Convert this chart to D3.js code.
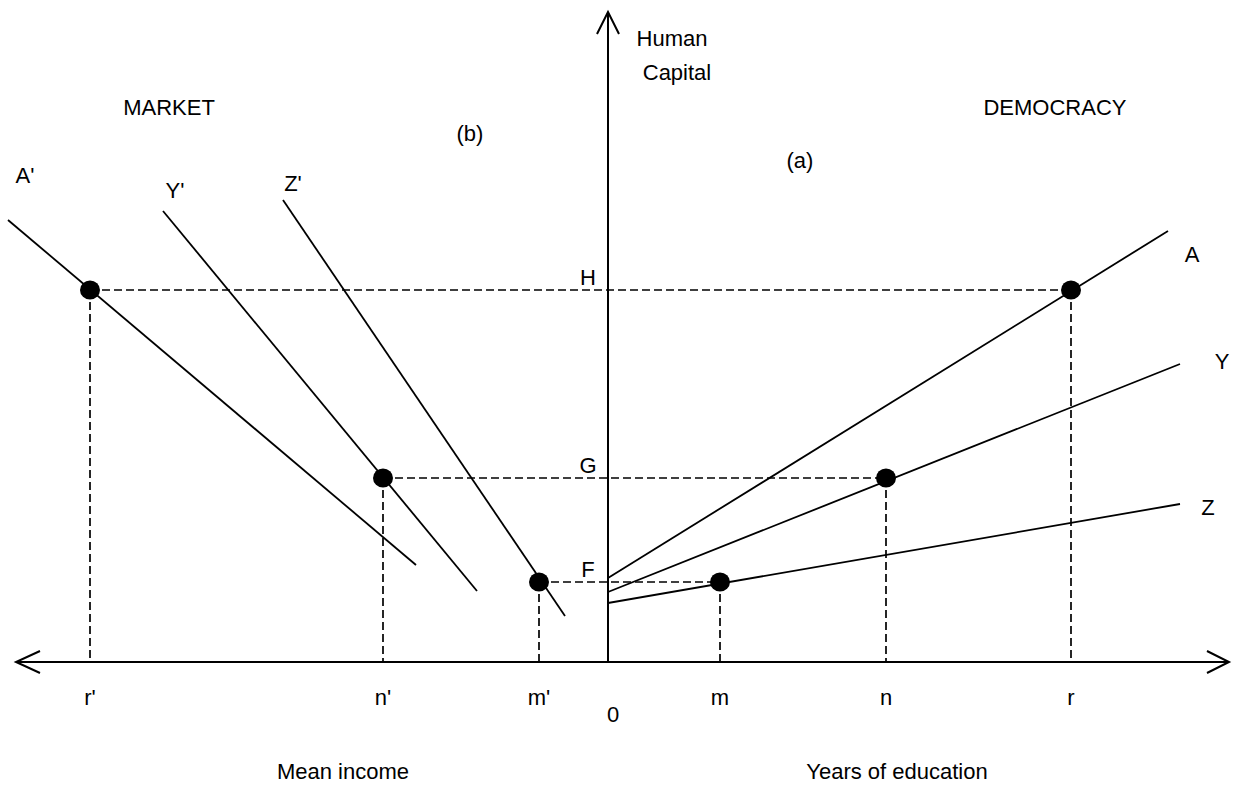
<!DOCTYPE html>
<html>
<head>
<meta charset="utf-8">
<script src="https://cdn.jsdelivr.net/npm/d3@7"></script>
<style>
    body { margin: 0; background: #fff; }
    svg text { font-family: "Liberation Sans", Arial, sans-serif; font-size: 22px; fill: #000; }
</style>
</head>
<body>
<div id="canvas"><svg width="1237" height="786"></svg></div>
<script>
// units are offsets from the origin: x = along the axis, h = height above it
const curveNames = ['A', 'Y', 'Z', "A'", "Y'", "Z'"];
const curveStart = [[0, 84], [0, 70], [0, 59], [-600, 442], [-445, 451], [-325, 462]];
const curveEnd = [[560, 431], [572, 298], [572, 158], [-192, 97], [-131, 71], [-43, 46]];

// equilibrium points, left (market) and right (democracy) for each level
const levelNames = ['H', 'G', 'F'];
const levelValues = [372, 184, 80];
const marketX = [-518, -225, -69];
const democracyX = [463, 278, 112];
const marketTicks = ["r'", "n'", "m'"];
const democracyTicks = ['r', 'n', 'm'];

const x = d3.scaleLinear().domain([-592, 621]).range([16, 1229]);
const y = d3.scaleLinear().domain([0, 650]).range([662, 12]);

const svg = d3.select('#canvas svg');

// axes
svg.append('line')
    .attr('x1', x(-592)).attr('x2', x(621))
    .attr('y1', y(0)).attr('y2', y(0))
    .attr('stroke', '#000').attr('stroke-width', 2);
svg.append('line')
    .attr('x1', x(0)).attr('x2', x(0))
    .attr('y1', y(0)).attr('y2', y(650))
    .attr('stroke', '#000').attr('stroke-width', 2);

// open arrow heads
const heads = [
    [[x(-592) + 24, y(0) - 11], [x(-592), y(0)], [x(-592) + 24, y(0) + 11]],
    [[x(621) - 22, y(0) - 11], [x(621), y(0)], [x(621) - 22, y(0) + 11]],
    [[x(0) - 11, y(650) + 22], [x(0), y(650)], [x(0) + 11, y(650) + 22]]
];
svg.selectAll('.head').data(heads)
    .enter().append('path')
    .attr('class', 'head')
    .attr('d', d3.line())
    .attr('fill', 'none')
    .attr('stroke', '#000')
    .attr('stroke-width', 2);

// dashed guides: horizontal level lines and drops to the axis
svg.selectAll('.level').data(levelValues)
    .enter().append('line')
    .attr('class', 'level')
    .attr('x1', (d, i) => { return x(marketX[i]); })
    .attr('x2', (d, i) => { return x(democracyX[i]); })
    .attr('y1', (d) => { return y(d); })
    .attr('y2', (d) => { return y(d); });

const drops = [];
levelValues.forEach((v, i) => {
    drops.push({ x: marketX[i], h: v, tick: marketTicks[i] });
    drops.push({ x: democracyX[i], h: v, tick: democracyTicks[i] });
});
svg.selectAll('.drop').data(drops)
    .enter().append('line')
    .attr('class', 'drop')
    .attr('x1', (d) => { return x(d.x); })
    .attr('x2', (d) => { return x(d.x); })
    .attr('y1', (d) => { return y(d.h); })
    .attr('y2', y(0));

svg.selectAll('.level, .drop')
    .attr('stroke', '#000')
    .attr('stroke-width', 1.7)
    .attr('stroke-dasharray', '8,4');

// the six curves
svg.selectAll('.curve').data(curveNames)
    .enter().append('line')
    .attr('class', 'curve')
    .attr('x1', (d, i) => { return x(curveStart[i][0]); })
    .attr('y1', (d, i) => { return y(curveStart[i][1]); })
    .attr('x2', (d, i) => { return x(curveEnd[i][0]); })
    .attr('y2', (d, i) => { return y(curveEnd[i][1]); })
    .attr('stroke', '#000')
    .attr('stroke-width', 1.8);

// points
svg.selectAll('.dot').data(drops)
    .enter().append('ellipse')
    .attr('class', 'dot')
    .attr('cx', (d) => { return x(d.x); })
    .attr('cy', (d) => { return y(d.h); })
    .attr('rx', 10)
    .attr('ry', 9.5)
    .attr('fill', '#000');

// curve labels: right ones past the line end, left ones above its start
svg.selectAll('.curveLabel').data(curveNames)
    .enter().append('text')
    .attr('class', 'curveLabel')
    .attr('text-anchor', 'middle')
    .attr('x', (d, i) => {
        if (i < 3) { return x(curveEnd[i][0]) + [24, 42, 28][i]; }
        return x(curveStart[i][0]) + [17, 12, 10][i - 3];
    })
    .attr('y', (d, i) => {
        if (i < 3) { return y(curveEnd[i][1]) + [31, 5, 11][i]; }
        return y(curveStart[i][1]) - [37, 13, 9][i - 3];
    })
    .text((d) => { return d; });

// level labels next to the vertical axis
svg.selectAll('.levelLabel').data(levelNames)
    .enter().append('text')
    .attr('class', 'levelLabel')
    .attr('text-anchor', 'middle')
    .attr('x', x(0) - 20)
    .attr('y', (d, i) => { return y(levelValues[i]) - 5; })
    .text((d) => { return d; });

// tick labels under the axis
svg.selectAll('.tick').data(drops)
    .enter().append('text')
    .attr('class', 'tick')
    .attr('text-anchor', 'middle')
    .attr('x', (d) => { return x(d.x); })
    .attr('y', y(0) + 43)
    .text((d) => { return d.tick; });
svg.append('text')
    .attr('text-anchor', 'middle')
    .attr('x', x(0) + 5)
    .attr('y', y(0) + 60)
    .text('0');

// titles
const titles = [
    { t: 'Human', cx: 672, by: 46 },
    { t: 'Capital', cx: 677, by: 80 },
    { t: 'MARKET', cx: 169, by: 115 },
    { t: 'DEMOCRACY', cx: 1055, by: 115 },
    { t: '(b)', cx: 470, by: 141 },
    { t: '(a)', cx: 800, by: 168 },
    { t: 'Mean income', cx: 343, by: 779 },
    { t: 'Years of education', cx: 897, by: 779 }
];
svg.selectAll('.title').data(titles)
    .enter().append('text')
    .attr('class', 'title')
    .attr('text-anchor', 'middle')
    .attr('x', (d) => { return d.cx; })
    .attr('y', (d) => { return d.by; })
    .text((d) => { return d.t; });
</script>
</body>
</html>
